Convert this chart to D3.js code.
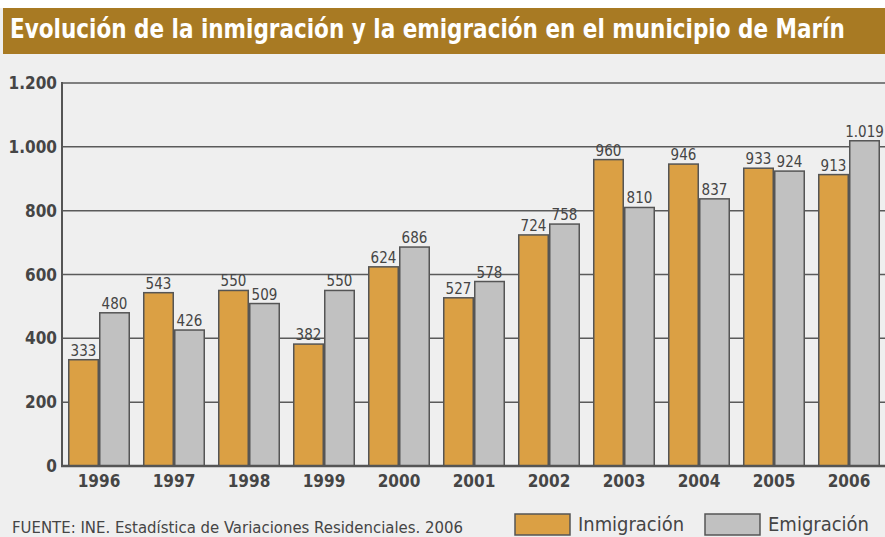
<!DOCTYPE html>
<html>
<head>
<meta charset="utf-8">
<script src="https://cdn.jsdelivr.net/npm/d3@7"></script>
<style>
  html, body { margin: 0; padding: 0; background: #fff; }
  svg { display: block; }
  text { font-family: "Liberation Sans Narrow", "DejaVu Sans Condensed", "Liberation Sans", sans-serif; }
</style>
</head>
<body>
<svg id="chart"></svg>
<script>
// data
var years = ["1996", "1997", "1998", "1999", "2000", "2001", "2002", "2003", "2004", "2005", "2006"];
var inmigracion = [333, 543, 550, 382, 624, 527, 724, 960, 946, 933, 913];
var emigracion  = [480, 426, 509, 550, 686, 578, 758, 810, 837, 924, 1019];
var seriesNames = ["Inmigración", "Emigración"];
var yTicks = [0, 200, 400, 600, 800, 1000, 1200];

var titleText  = "Evolución de la inmigración y la emigración en el municipio de Marín";
var sourceText = "FUENTE: INE. Estadística de Variaciones Residenciales. 2006";

var W = 885, H = 537;
var colors = ["#dba044", "#c1c1c1"];
var ink = "#454545";

// Spanish thousands separator: 1.019
var es = d3.formatLocale({ decimal: ",", thousands: ".", grouping: [3], currency: ["", " €"] });
var fmt = es.format(",d");

var svg = d3.select("#chart").attr("width", W).attr("height", H);

// background
svg.append("rect").attr("width", W).attr("height", H).attr("fill", "#efefef");
svg.append("rect").attr("width", W).attr("height", 8).attr("fill", "#fff");

// ── Title band ───────────────────────────────────────────
svg.append("rect")
  .attr("x", 3).attr("y", 8).attr("width", W - 3).attr("height", 46)
  .attr("fill", "#a87a23");
var title = svg.append("text")
  .attr("x", 0).attr("y", 0)
  .attr("fill", "#fff")
  .style("font-size", "26px")
  .style("font-weight", "bold")
  .text(titleText);
// squeeze horizontally to the narrow width of the original title
var tw = title.node().getComputedTextLength();
title.attr("transform", "translate(10,38) scale(" + (835 / tw) + ",1)");

// ── Scales ───────────────────────────────────────────────
var x0 = d3.scaleBand()
  .domain(years)
  .range([62, 886])
  .paddingInner(0.1733)
  .paddingOuter(0.08);

var x1 = d3.scaleBand()
  .domain([0, 1])
  .range([0, x0.bandwidth()]);

var y = d3.scaleLinear()
  .domain([0, 1200])
  .range([466, 83]);

// gridlines (bars cover them)
svg.append("g")
  .selectAll("line")
  .data(yTicks.filter(function(d) { return d > 0; }))
  .join("line")
  .attr("x1", 62).attr("x2", W)
  .attr("y1", function(d) { return y(d); })
  .attr("y2", function(d) { return y(d); })
  .attr("stroke", "#5a5a5a").attr("stroke-width", 1.5);

// y axis labels
svg.append("g")
  .selectAll("text")
  .data(yTicks)
  .join("text")
  .attr("x", 57)
  .attr("y", function(d) { return y(d); })
  .attr("dy", "0.36em")
  .attr("text-anchor", "end")
  .attr("fill", ink)
  .style("font-size", "17px")
  .style("font-weight", "bold")
  .text(function(d) { return fmt(d); });

// ── Bars ─────────────────────────────────────────────────
var rows = years.map(function(yr, i) {
  return { year: yr, values: [inmigracion[i], emigracion[i]] };
});

var groups = svg.append("g")
  .selectAll("g")
  .data(rows)
  .join("g")
  .attr("transform", function(d) { return "translate(" + x0(d.year) + ",0)"; });

groups.selectAll("rect")
  .data(function(d) { return d.values.map(function(v, k) { return { k: k, v: v }; }); })
  .join("rect")
  .attr("x", function(d) { return x1(d.k) + 0.75; })
  .attr("y", function(d) { return y(d.v); })
  .attr("width", x1.bandwidth() - 1.5)
  .attr("height", function(d) { return y(0) - y(d.v); })
  .attr("fill", function(d) { return colors[d.k]; })
  .attr("stroke", "#555").attr("stroke-width", 1.5);

groups.selectAll("text")
  .data(function(d) { return d.values.map(function(v, k) { return { k: k, v: v }; }); })
  .join("text")
  .attr("x", function(d) { return x1(d.k) + x1.bandwidth() / 2; })
  .attr("y", function(d) { return y(d.v) - 4; })
  .attr("text-anchor", "middle")
  .attr("fill", ink)
  .style("font-size", "15px")
  .text(function(d) { return fmt(d.v); });

// axis lines
svg.append("line")
  .attr("x1", 62).attr("x2", 62).attr("y1", y(1200) - 1).attr("y2", y(0) + 1)
  .attr("stroke", "#555").attr("stroke-width", 2);
svg.append("line")
  .attr("x1", 61).attr("x2", W).attr("y1", y(0)).attr("y2", y(0))
  .attr("stroke", "#555").attr("stroke-width", 2.5);

// year labels
svg.append("g")
  .attr("transform", "translate(0," + (y(0) + 2) + ")")
  .call(d3.axisBottom(x0).tickSize(0).tickPadding(7))
  .call(function(g) { g.select(".domain").remove(); })
  .call(function(g) {
    g.selectAll("text")
      .attr("fill", ink)
      .style("font-size", "17px")
      .style("font-weight", "bold")
      .style("font-family", "'Liberation Sans Narrow', 'DejaVu Sans Condensed', sans-serif");
  });

// ── Footer: source + legend ──────────────────────────────
svg.append("text")
  .attr("x", 12).attr("y", 533)
  .attr("fill", ink)
  .style("font-size", "15px")
  .attr("textLength", 451).attr("lengthAdjust", "spacingAndGlyphs")
  .text(sourceText);

var legendX = [515, 705];
var legendTextW = [106, 101];
var legend = svg.append("g")
  .selectAll("g")
  .data(seriesNames)
  .join("g")
  .attr("transform", function(d, i) { return "translate(" + legendX[i] + ",514)"; });

legend.append("rect")
  .attr("width", 55).attr("height", 21)
  .attr("fill", function(d, i) { return colors[i]; })
  .attr("stroke", "#555").attr("stroke-width", 1.5);

legend.append("text")
  .attr("x", 63).attr("y", 17)
  .attr("fill", ink)
  .style("font-size", "19px")
  .attr("textLength", function(d, i) { return legendTextW[i]; })
  .attr("lengthAdjust", "spacingAndGlyphs")
  .text(function(d) { return d; });
</script>
</body>
</html>
